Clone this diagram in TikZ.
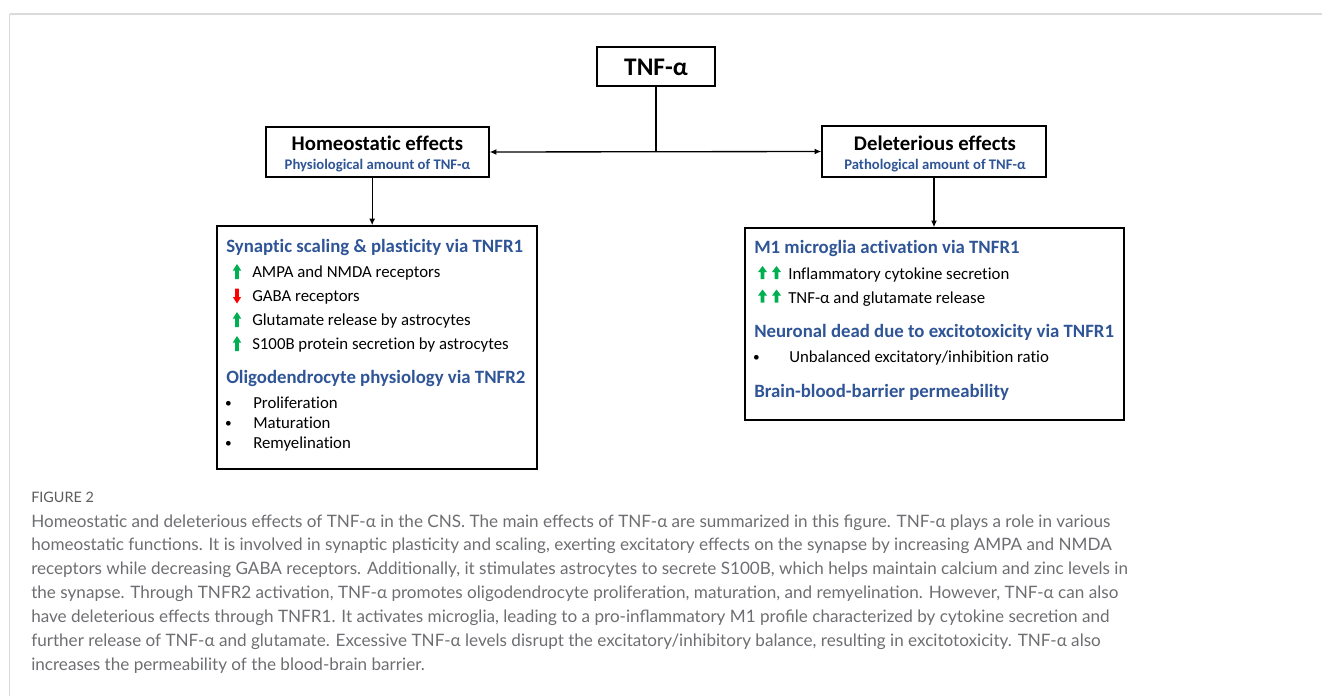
\documentclass[tikz,border=0pt]{standalone}
\usepackage{fontspec}
\setmainfont{Carlito}[Ligatures=NoCommon]
\newfontfamily\capfont{Lato}
\usetikzlibrary{arrows.meta}
\definecolor{hblue}{HTML}{2F5597}
\definecolor{agreen}{HTML}{00B050}
\definecolor{ared}{HTML}{FF0000}
\definecolor{capgray}{HTML}{6D6E71}
\definecolor{figgray}{HTML}{5A5B5D}
\definecolor{framegray}{HTML}{DADADA}
\tikzset{
  box/.style={draw=black, line width=1.1pt, inner sep=0pt, fill=white},
  conn/.style={draw=black, line width=1pt},
  tip/.style={-{Latex[length=5pt,width=4.5pt]}},
  ttl/.style={anchor=base, inner sep=0pt, font=\fontsize{15.6}{18}\selectfont\bfseries},
  sub/.style={anchor=base, inner sep=0pt, text=hblue, font=\fontsize{11}{13}\selectfont\bfseries},
  head/.style={anchor=base west, inner sep=0pt, text=hblue, font=\fontsize{14.1}{16}\selectfont\bfseries},
  body/.style={anchor=base west, inner sep=0pt, font=\fontsize{12.6}{15}\selectfont},
  bul/.style={anchor=base, inner sep=0pt, font=\fontsize{10}{12}\selectfont},
  capline/.style={anchor=base west, inner sep=0pt, text=capgray, font=\capfont\fontsize{12.83}{16}\selectfont},
  upar/.pic={\fill[agreen] (-1.8,0) -- (1.8,0) -- (1.8,-8.5) -- (4.2,-8.5) -- (0,-15) -- (-4.2,-8.5) -- (-1.8,-8.5) -- cycle;},
  upars/.pic={\fill[agreen] (-1.9,0) -- (1.9,0) -- (1.9,-7) -- (4.5,-7) -- (0,-13) -- (-4.5,-7) -- (-1.9,-7) -- cycle;},
  downar/.pic={\fill[ared] (-1.8,0) -- (1.8,0) -- (1.8,8.5) -- (4.2,8.5) -- (0,15) -- (-4.2,8.5) -- (-1.8,8.5) -- cycle;}
}
\begin{document}
\begin{tikzpicture}[x=0.75pt,y=-0.75pt]
\useasboundingbox (0,0) rectangle (1322,696);
% figure frame
\draw[framegray, line width=1.4pt] (9.5,13.8) -- (1322,13.8);
\draw[framegray, line width=0.8pt] (9.5,13.8) -- (9.5,696);

% boxes
\node[box, minimum width=88.5pt, minimum height=29.25pt] (tnf) at (656,66.5) {};
\node[box, minimum width=167.25pt, minimum height=37.5pt] (home) at (377.5,152) {};
\node[box, minimum width=168pt, minimum height=38.25pt] (del) at (934,151.5) {};
\node[box, minimum width=240pt, minimum height=182.25pt] (syn) at (377,347.5) {};
\node[box, minimum width=284.25pt, minimum height=144pt] (mic) at (934.5,324) {};

% connectors
\coordinate (split) at (tnf.south |- home.east);
\draw[conn] (tnf.south) -- (split);
\draw[conn, {Latex[length=5pt,width=4.5pt]}-{Latex[length=5pt,width=4.5pt]}] (home.east) -- (del.west);
\draw[conn, tip] ([xshift=-4pt]home.south) -- ([xshift=-4pt]home.south |- syn.north);
\draw[conn, tip] (del.south) -- (del.south |- mic.north);

% top texts
\node[anchor=base, inner sep=0pt, font=\fontsize{19}{22}\selectfont\bfseries] (tnft) at (656,75) {TNF-α};
\node[ttl] (homet) at (377.5,150) {Homeostatic effects};
\node[sub] (homes) at (377.5,169.3) {Physiological amount of TNF-α};
\node[ttl] (delt) at (935,150) {Deleterious effects};
\node[sub] (dels) at (935,169.3) {Pathological amount of TNF-α};

% left box content
\node[head] (h1) at (226,252) {Synaptic scaling \& plasticity via TNFR1};
\pic at (237,279) {upar};
\node[body] (l1) at (252,277) {AMPA and NMDA receptors};
\pic at (237,288.5) {downar};
\node[body] (l2) at (252,301) {GABA receptors};
\pic at (237,327) {upar};
\node[body] (l3) at (252,325) {Glutamate release by astrocytes};
\pic at (237,351) {upar};
\node[body] (l4) at (252,349) {S100B protein secretion by astrocytes};
\node[head] (h2) at (226,383) {Oligodendrocyte physiology via TNFR2};
\node[bul] (b1) at (228.5,407) {•};
\node[body] (l5) at (253,408) {Proliferation};
\node[bul] (b2) at (228.5,427) {•};
\node[body] (l6) at (253,428) {Maturation};
\node[bul] (b3) at (228.5,447) {•};
\node[body] (l7) at (253,448) {Remyelination};

% right box content
\node[head] (h3) at (754,253) {M1 microglia activation via TNFR1};
\pic at (762.5,279) {upars};
\pic at (776.5,279) {upars};
\node[body] (r1) at (788,279) {Inflammatory cytokine secretion};
\pic at (762.5,302.5) {upars};
\pic at (776.5,302.5) {upars};
\node[body] (r2) at (788,303) {TNF-α and glutamate release};
\node[head] (h4) at (754,337) {Neuronal dead due to excitotoxicity via TNFR1};
\node[bul] (b4) at (756.5,361) {•};
\node[body] (r3) at (789,362) {Unbalanced excitatory/inhibition ratio};
\node[head] (h5) at (754,397) {Brain-blood-barrier permeability};

% caption
\node[anchor=base west, inner sep=0pt, text=figgray, font=\capfont\fontsize{10.8}{12}\selectfont] (fig) at (31,502) {FIGURE 2};
\node[capline] (c1) at (31,527) {Homeostatic and deleterious effects of TNF-α in the CNS. The main effects of TNF-α are summarized in this figure. TNF-α plays a role in various};
\node[capline] (c2) at (31,550.5) {homeostatic functions. It is involved in synaptic plasticity and scaling, exerting excitatory effects on the synapse by increasing AMPA and NMDA};
\node[capline] (c3) at (31,574.5) {receptors while decreasing GABA receptors. Additionally, it stimulates astrocytes to secrete S100B, which helps maintain calcium and zinc levels in};
\node[capline] (c4) at (31,598.5) {the synapse. Through TNFR2 activation, TNF-α promotes oligodendrocyte proliferation, maturation, and remyelination. However, TNF-α can also};
\node[capline] (c5) at (31,622.5) {have deleterious effects through TNFR1. It activates microglia, leading to a pro-inflammatory M1 profile characterized by cytokine secretion and};
\node[capline] (c6) at (31,646.5) {further release of TNF-α and glutamate. Excessive TNF-α levels disrupt the excitatory/inhibitory balance, resulting in excitotoxicity. TNF-α also};
\node[capline] (c7) at (31,670.5) {increases the permeability of the blood-brain barrier.};
\end{tikzpicture}
\end{document}
